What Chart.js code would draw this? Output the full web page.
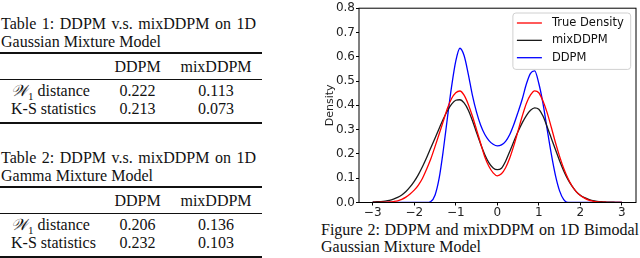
<!DOCTYPE html>
<html lang="en">
<head>
  <meta charset="UTF-8" />
  <title>DDPM vs mixDDPM</title>
  <script src="https://cdn.jsdelivr.net/npm/chart.js"></script>
  <style>
    html, body { margin: 0; padding: 0; background: #fff; }
    body { width: 640px; height: 258px; position: relative; overflow: hidden;
           font-family: "Liberation Serif", "Times New Roman", serif; font-size: 16px; color: #111; }
    .block { position: absolute; left: 0; width: 262px; height: 124px; }
    .t { position: absolute; line-height: 16px; white-space: nowrap; }
    .just { text-align: justify; text-align-last: justify; white-space: normal; }
    .rule { position: absolute; left: 0; width: 262px; background: #111; }
    .c1, .c2 { width: 90px; text-align: center; }
    .c1 { left: 92.5px; }
    .c2 { left: 171px; }
    .cal { font-family: "DejaVu Serif", serif; font-style: italic; }
    sub { font-size: 11px; line-height: 0; }
    #chart-box { position: absolute; left: 320px; top: 0; width: 320px; height: 218px; }
    .cap { position: absolute; left: 321px; line-height: 16px; }
  </style>
</head>
<body>

  <!-- Table 1 -->
  <div class="block" style="top: 0px;">
    <div class="t just" style="left: 1px; top: 16px; width: 255px;">Table 1: DDPM v.s. mixDDPM on 1D</div>
    <div class="t" style="left: 1px; top: 33.5px;">Gaussian Mixture Model</div>
    <div class="rule" style="top: 52px; height: 1.6px;"></div>
    <div class="t c1" style="top: 58.8px;">DDPM</div>
    <div class="t c2" style="top: 58.8px;">mixDDPM</div>
    <div class="rule" style="top: 78.9px; height: 0.9px;"></div>
    <div class="t" style="left: 11px; top: 83.3px;"><span class="cal">𝒲</span><sub>1</sub> distance</div>
    <div class="t c1" style="top: 83.3px;">0.222</div>
    <div class="t c2" style="top: 83.3px;">0.113</div>
    <div class="t" style="left: 11px; top: 100.6px;">K-S statistics</div>
    <div class="t c1" style="top: 100.6px;">0.213</div>
    <div class="t c2" style="top: 100.6px;">0.073</div>
    <div class="rule" style="top: 122px; height: 1.6px;"></div>
  </div>

  <!-- Table 2 -->
  <div class="block" style="top: 134px;">
    <div class="t just" style="left: 1px; top: 16px; width: 255px;">Table 2: DDPM v.s. mixDDPM on 1D</div>
    <div class="t" style="left: 1px; top: 33.5px;">Gamma Mixture Model</div>
    <div class="rule" style="top: 52px; height: 1.6px;"></div>
    <div class="t c1" style="top: 58.8px;">DDPM</div>
    <div class="t c2" style="top: 58.8px;">mixDDPM</div>
    <div class="rule" style="top: 78.9px; height: 0.9px;"></div>
    <div class="t" style="left: 11px; top: 83.3px;"><span class="cal">𝒲</span><sub>1</sub> distance</div>
    <div class="t c1" style="top: 83.3px;">0.206</div>
    <div class="t c2" style="top: 83.3px;">0.136</div>
    <div class="t" style="left: 11px; top: 100.6px;">K-S statistics</div>
    <div class="t c1" style="top: 100.6px;">0.232</div>
    <div class="t c2" style="top: 100.6px;">0.103</div>
    <div class="rule" style="top: 122px; height: 1.6px;"></div>
  </div>

  <!-- Figure -->
  <div id="chart-box"><canvas id="canvas-density" width="320" height="218"></canvas></div>
  <div class="cap just" style="top: 221.5px; width: 318px;">Figure 2: DDPM and mixDDPM on 1D Bimodal</div>
  <div class="cap" style="top: 238.8px;">Gaussian Mixture Model</div>

  <script>
    // x grid of the density curves
    const xs = [-3.0, -2.9, -2.8, -2.7, -2.6, -2.5, -2.4, -2.3, -2.2, -2.1,
                -2.0, -1.9, -1.8, -1.7, -1.6, -1.5, -1.4, -1.3, -1.2, -1.1,
                -1.0, -0.9, -0.8, -0.7, -0.6, -0.5, -0.4, -0.3, -0.2, -0.1,
                 0.0,  0.1,  0.2,  0.3,  0.4,  0.5,  0.6,  0.7,  0.8,  0.9,
                 1.0,  1.1,  1.2,  1.3,  1.4,  1.5,  1.6,  1.7,  1.8,  1.9,
                 2.0,  2.1,  2.2,  2.3,  2.4,  2.5,  2.6,  2.7,  2.8,  2.9, 3.0];

    const trueDensity = [0, 0, 0.001, 0.001, 0.002, 0.004, 0.007, 0.013, 0.022, 0.035,
                         0.051, 0.072, 0.100, 0.138, 0.180, 0.230, 0.282, 0.335, 0.388, 0.428,
                         0.452, 0.459, 0.442, 0.405, 0.356, 0.300, 0.243, 0.187, 0.148, 0.122,
                         0.110, 0.118, 0.143, 0.183, 0.235, 0.295, 0.355, 0.408, 0.443, 0.460,
                         0.452, 0.418, 0.370, 0.310, 0.247, 0.190, 0.140, 0.100, 0.068, 0.045,
                         0.029, 0.018, 0.010, 0.006, 0.003, 0.001, 0.001, 0, 0, 0, 0];

    const mixDDPM = [0.002, 0.003, 0.004, 0.006, 0.009, 0.014, 0.021, 0.031, 0.045, 0.064,
                     0.087, 0.115, 0.148, 0.185, 0.225, 0.265, 0.305, 0.344, 0.378, 0.405,
                     0.421, 0.423, 0.410, 0.381, 0.338, 0.288, 0.240, 0.197, 0.163, 0.142,
                     0.135, 0.141, 0.170, 0.210, 0.252, 0.292, 0.328, 0.358, 0.380, 0.390,
                     0.384, 0.356, 0.312, 0.265, 0.218, 0.172, 0.130, 0.095, 0.067, 0.045,
                     0.030, 0.020, 0.013, 0.008, 0.005, 0.003, 0.002, 0.001, 0.001, 0, 0];

    const ddpm = [0, 0, 0, 0, 0, 0, 0, 0, 0, 0,
                  0, 0, 0, 0, 0.004, 0.030, 0.100, 0.215, 0.350, 0.478,
                  0.582, 0.635, 0.605, 0.530, 0.442, 0.372, 0.318, 0.280, 0.255, 0.240,
                  0.233, 0.237, 0.252, 0.280, 0.322, 0.372, 0.425, 0.488, 0.532, 0.542,
                  0.490, 0.408, 0.302, 0.200, 0.112, 0.048, 0.012, 0, 0, 0,
                  0, 0, 0, 0, 0, 0, 0, 0, 0, 0, 0];

    const xTicks = [-3, -2, -1, 0, 1, 2, 3];
    const yTicks = [0, 0.1, 0.2, 0.3, 0.4, 0.5, 0.6, 0.7, 0.8];

    const pts = ys => xs.map((x, i) => ({ x: x, y: ys[i] }));

    // axes frame + boxed legend in the upper right corner
    const frameLegend = {
      id: 'frameLegend',
      afterDatasetsDraw(chart) {
        const { ctx, chartArea: a } = chart;
        ctx.save();
        ctx.strokeStyle = '#000';
        ctx.lineWidth = 1;
        ctx.strokeRect(a.left, a.top, a.right - a.left, a.bottom - a.top);

        ctx.font = '11.5px "DejaVu Sans"';
        const sets = chart.data.datasets;
        const textW = Math.max(...sets.map(d => ctx.measureText(d.label).width));
        const right = a.right - 5.3, top = a.top + 4.8;
        const w = 4 + 25 + 10 + textW + 7, h = 56.4;
        const left = right - w;
        ctx.beginPath();
        ctx.roundRect(left, top, w, h, 3);
        ctx.fillStyle = 'rgba(255,255,255,0.8)';
        ctx.fill();
        ctx.strokeStyle = '#d0d0d0';
        ctx.lineWidth = 1;
        ctx.stroke();

        ctx.textBaseline = 'middle';
        sets.forEach((d, i) => {
          const y = top + 10 + i * 17.35;
          ctx.beginPath();
          ctx.moveTo(left + 4, y);
          ctx.lineTo(left + 29, y);
          ctx.strokeStyle = d.borderColor;
          ctx.lineWidth = d.borderWidth;
          ctx.stroke();
          ctx.fillStyle = '#111';
          ctx.fillText(d.label, left + 39, y);
        });
        ctx.restore();
      }
    };

    Chart.defaults.font.family = '"DejaVu Sans"';
    Chart.defaults.color = '#222';

    const line = (label, ys, color) => ({
      label: label,
      data: pts(ys),
      borderColor: color,
      borderWidth: 1.3,
      pointRadius: 0,
      fill: false,
      cubicInterpolationMode: 'monotone',
      clip: 0
    });

    new Chart(document.getElementById('canvas-density').getContext('2d'), {
      type: 'line',
      data: {
        datasets: [
          line('True Density', trueDensity, '#ff0000'),
          line('mixDDPM', mixDDPM, '#1a1a1a'),
          line('DDPM', ddpm, '#0000ff')
        ]
      },
      options: {
        responsive: false,
        animation: false,
        layout: { padding: { top: 4.5, right: 4, left: 0, bottom: 0 } },
        plugins: { legend: { display: false }, tooltip: { enabled: false } },
        scales: {
          x: {
            type: 'linear',
            min: -3.33,
            max: 3.34,
            afterBuildTicks: s => { s.ticks = xTicks.map(v => ({ value: v })); },
            afterFit: s => { s.height = 15.5; },
            grid: { drawOnChartArea: false, drawTicks: true, tickLength: 3, color: '#000' },
            border: { display: false },
            ticks: {
              font: { size: 12 },
              padding: 0,
              maxRotation: 0,
              callback: v => String(v).replace('-', '\u2212')
            }
          },
          y: {
            min: 0,
            max: 0.8,
            afterBuildTicks: s => { s.ticks = yTicks.map(v => ({ value: v })); },
            afterFit: s => { s.width = 39; },
            grid: { drawOnChartArea: false, drawTicks: true, tickLength: 3, color: '#000' },
            border: { display: false },
            ticks: { font: { size: 12 }, padding: 1, callback: v => v.toFixed(1) },
            title: { display: true, text: 'Density', font: { size: 11 }, padding: { top: 4, bottom: 0 } }
          }
        }
      },
      plugins: [frameLegend]
    });
  </script>
</body>
</html>
